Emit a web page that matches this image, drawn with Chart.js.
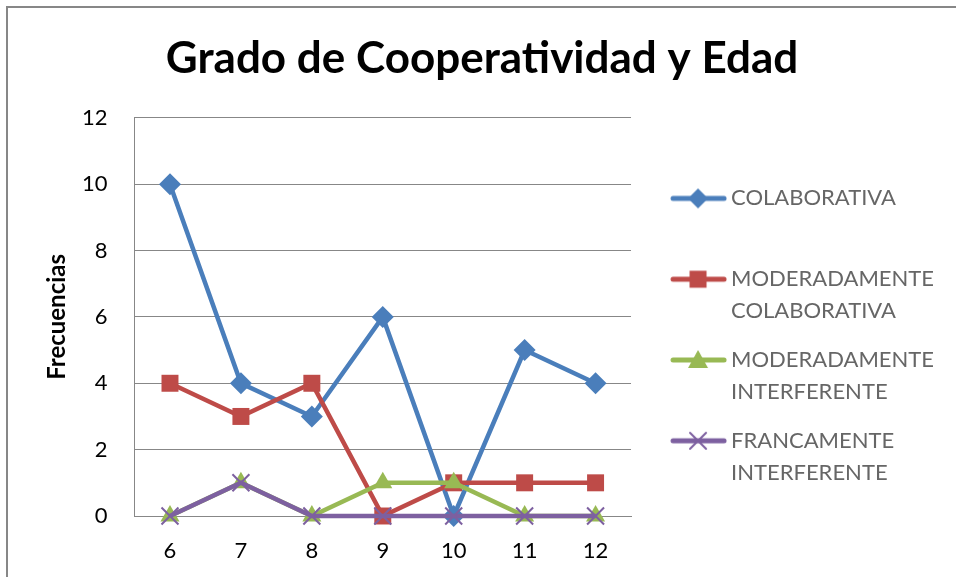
<!DOCTYPE html>
<html>
<head>
<meta charset="utf-8">
<script src="https://cdn.jsdelivr.net/npm/chart.js@4.4.1/dist/chart.umd.min.js"></script>
<style>
  html, body { margin: 0; padding: 0; background: #fff; overflow: hidden; }
  #frame { position: absolute; left: 6px; top: 6px; width: 2000px; height: 2000px; border: 2px solid #878787; }
  #c { position: absolute; left: 0; top: 0; }
</style>
</head>
<body>
<div id="frame"></div>
<canvas id="c" width="956" height="577"></canvas>
<script>
// edades
var categories = ['6', '7', '8', '9', '10', '11', '12'];

var colaborativa = [10, 4, 3, 6, 0, 5, 4];
var modColaborativa = [4, 3, 4, 0, 1, 1, 1];
var modInterferente = [0, 1, 0, 1, 1, 0, 0];
var francInterferente = [0, 1, 0, 0, 0, 0, 0];

var seriesNames = [
    ['COLABORATIVA', ''],
    ['MODERADAMENTE', 'COLABORATIVA'],
    ['MODERADAMENTE', 'INTERFERENTE'],
    ['FRANCAMENTE', 'INTERFERENTE']
];
var colors = ['#4A7EBB', '#BE4B48', '#98B954', '#7D60A0'];
var shapes = ['rectRot', 'rect', 'triangle', 'crossRot'];
var radii = [11, 12, 11, 12];

var FONT = 'Lato, "Liberation Sans", sans-serif';

// legend glyph: line with the marker, drawn off-centre so the
// text keeps its own gap
function legendGlyph(color, shape) {
    var c = document.createElement('canvas');
    c.width = 86; c.height = 26;
    var g = c.getContext('2d');
    var cx = 57, cy = 13;
    g.strokeStyle = color;
    g.fillStyle = color;
    g.lineWidth = 5;
    g.lineCap = 'round';
    g.beginPath(); g.moveTo(32, cy); g.lineTo(83, cy); g.stroke();
    g.beginPath();
    if (shape === 'rectRot') {
        g.moveTo(cx, cy - 10); g.lineTo(cx + 10, cy); g.lineTo(cx, cy + 10); g.lineTo(cx - 10, cy); g.closePath(); g.fill();
    } else if (shape === 'rect') {
        g.rect(cx - 8.5, cy - 8.5, 17, 17); g.fill();
    } else if (shape === 'triangle') {
        g.moveTo(cx, cy - 10); g.lineTo(cx + 10, cy + 8); g.lineTo(cx - 10, cy + 8); g.closePath(); g.fill();
    } else {
        g.lineWidth = 2;
        g.moveTo(cx - 8, cy - 8); g.lineTo(cx + 8, cy + 8);
        g.moveTo(cx + 8, cy - 8); g.lineTo(cx - 8, cy + 8);
        g.stroke();
    }
    return c;
}

var allData = [colaborativa, modColaborativa, modInterferente, francInterferente];
var datasets = allData.map(function(d, i) {
    return {
        label: seriesNames[i].join(' '),
        data: d,
        order: allData.length - i,   // later series on top, like the original
        borderColor: colors[i],
        backgroundColor: colors[i],
        borderWidth: 4.5,
        pointStyle: shapes[i],
        pointRadius: radii[i],
        pointHoverRadius: radii[i],
        pointBorderWidth: shapes[i] === 'crossRot' ? 2 : 0,
        pointBackgroundColor: colors[i],
        pointBorderColor: colors[i],
        tension: 0,
        clip: false
    };
});

new Chart(document.getElementById('c'), {
    type: 'line',
    data: { labels: categories, datasets: datasets },
    options: {
        responsive: false,
        animation: false,
        layout: { padding: { left: 20, right: 12, top: 10, bottom: -8 } },
        plugins: {
            title: {
                display: true,
                text: 'Grado de Cooperatividad y Edad',
                color: '#000',
                font: { family: FONT, size: 44, weight: 'bold' },
                padding: { top: 22, bottom: 33 }
            },
            legend: {
                position: 'right',
                align: 'center',
                maxWidth: 400,
                title: { display: true, text: '', font: { size: 12 }, padding: { top: 71.6, bottom: 0 } },
                labels: {
                    color: '#000',
                    font: { family: FONT, size: 22, lineHeight: 1.45 },
                    usePointStyle: true,
                    pointStyleWidth: 72,
                    padding: 17,
                    generateLabels: function(chart) {
                        return chart.data.datasets.map(function(ds, i) {
                            return {
                                text: seriesNames[i],
                                fillStyle: colors[i],
                                strokeStyle: colors[i],
                                lineWidth: 0,
                                pointStyle: legendGlyph(colors[i], shapes[i]),
                                datasetIndex: i,
                                hidden: false
                            };
                        });
                    }
                }
            },
            tooltip: { enabled: false }
        },
        scales: {
            x: {
                offset: true,
                grid: { display: false, drawTicks: false },
                border: { display: true, color: '#878787', width: 1 },
                ticks: { color: '#000', padding: 21.3, font: { family: FONT, size: 22 } }
            },
            y: {
                min: 0,
                max: 12,
                ticks: { stepSize: 2, color: '#000', padding: 27, font: { family: FONT, size: 22 } },
                grid: { color: '#878787', lineWidth: 1, drawTicks: false },
                border: { display: true, color: '#878787', width: 1 },
                title: {
                    display: true,
                    text: 'Frecuencias',
                    color: '#000',
                    font: { family: FONT, size: 24, weight: 'bold' },
                    padding: { top: 23.1, bottom: -16.9 }
                }
            }
        }
    }
});
</script>
</body>
</html>
